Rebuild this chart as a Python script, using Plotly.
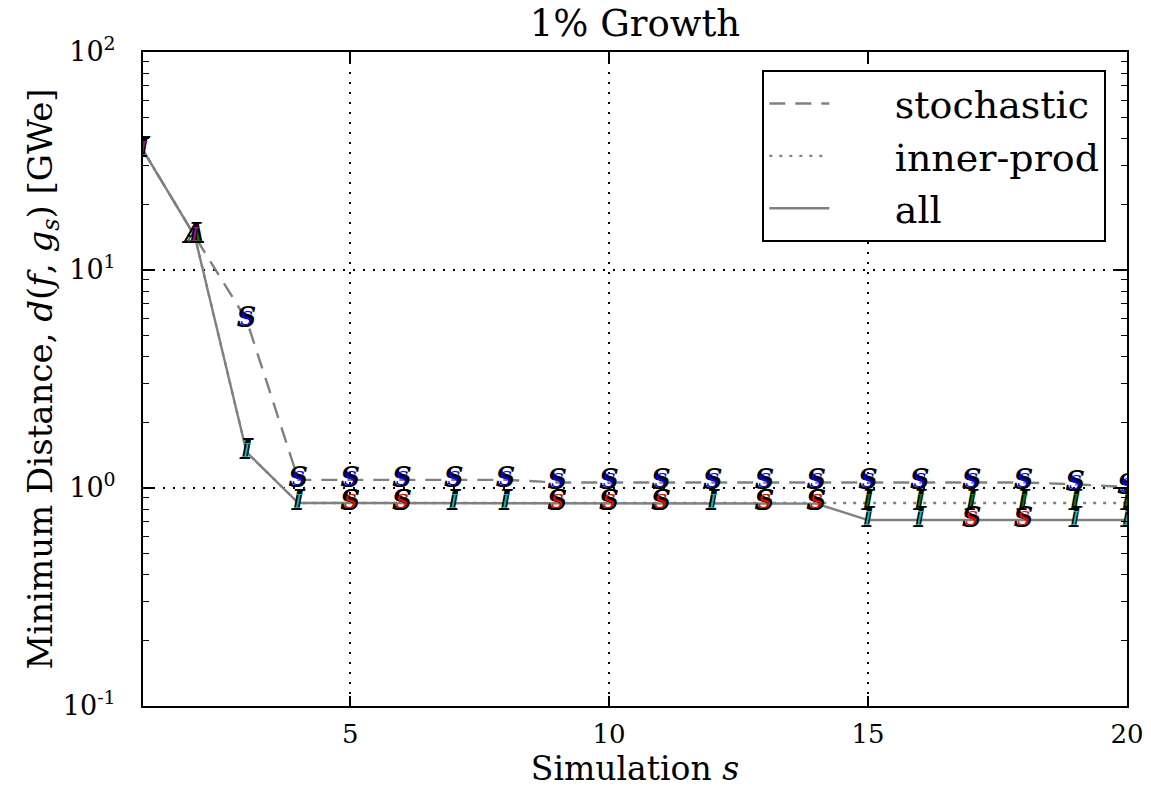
import plotly.graph_objects as go

sims = list(range(1, 21))

stochastic = [35.5, 14.3, 5.9, 1.09, 1.09, 1.09, 1.09, 1.09, 1.06, 1.06,
              1.06, 1.06, 1.06, 1.06, 1.06, 1.06, 1.06, 1.06, 1.04, 1.01]
stochastic_marks = ["I", "A", "S", "S", "S", "S", "S", "S", "S", "S",
                    "S", "S", "S", "S", "S", "S", "S", "S", "S", "S"]

inner_prod = [35.5, 14.3, 1.46, 0.853, 0.853, 0.853, 0.853, 0.853, 0.853, 0.853,
              0.853, 0.853, 0.848, 0.848, 0.853, 0.853, 0.853, 0.853, 0.853, 0.853]
inner_prod_marks = ["I", "A", "I", "I", "S", "S", "I", "I", "S", "S",
                    "S", "I", "S", "S", "I", "I", "I", "I", "I", "I"]

all_methods = [35.5, 14.3, 1.46, 0.853, 0.853, 0.853, 0.853, 0.853, 0.853, 0.853,
               0.853, 0.853, 0.848, 0.848, 0.713, 0.713, 0.713, 0.713, 0.713, 0.713]
all_marks = ["I", "I", "I", "I", "S", "S", "I", "I", "S", "S",
             "S", "I", "S", "S", "I", "I", "S", "S", "I", "I"]

y_tickvals = [0.1, 1, 10, 100]
y_ticktext = ["10<sup>-1</sup>", "10<sup>0</sup>", "10<sup>1</sup>", "10<sup>2</sup>"]
y_minor_tickvals = [m * d for d in (0.1, 1, 10) for m in range(2, 10)]
x_tickvals = [5, 10, 15, 20]

mark_colors_all = {"I": "rgb(0,191,191)", "S": "rgb(255,0,0)"}
MAGENTA = "rgb(191,0,191)"

fig = go.Figure()

GRAY = "rgb(128,128,128)"
NB = "\u00a0" * 5
fig.add_trace(go.Scatter(x=sims, y=stochastic, mode="lines", name=NB + "stochastic",
                         line=dict(color=GRAY, width=2.4, dash="16px,10px")))
fig.add_trace(go.Scatter(x=sims, y=inner_prod, mode="lines", name=NB + "inner-prod",
                         line=dict(color=GRAY, width=2.4, dash="3px,7px")))
fig.add_trace(go.Scatter(x=sims, y=all_methods, mode="lines", name=NB + "all",
                         line=dict(color=GRAY, width=2.4)))

MFONT = "DejaVu Serif"
MSIZE = 27


def add_marks(yvals, marks, colors):
    fig.add_trace(go.Scatter(x=sims, y=yvals, mode="text", text=marks, showlegend=False,
                             hoverinfo="skip", cliponaxis=True,
                             textfont=dict(family=MFONT, size=MSIZE, color="black",
                                           style="italic", weight="bold")))
    fig.add_trace(go.Scatter(x=sims, y=yvals, mode="text", text=marks, showlegend=False,
                             hoverinfo="skip", cliponaxis=True,
                             textfont=dict(family=MFONT, size=MSIZE - 8, color=colors,
                                           style="italic", weight="normal")))


add_marks(stochastic, stochastic_marks,
          [MAGENTA if m != "S" else "rgb(0,0,255)" for m in stochastic_marks])
add_marks(inner_prod, inner_prod_marks, ["rgb(0,128,0)" for m in inner_prod_marks])
add_marks(all_methods, all_marks,
          [MAGENTA if i < 2 else mark_colors_all[m] for i, m in enumerate(all_marks)])

FONT = "DejaVu Serif"
# page body has an 8px margin: figure occupies 1143x785 of the 1151x793 window
fig.update_layout(
    width=1143, height=785,
    margin=dict(l=135, r=24, t=44, b=87, autoexpand=False),
    paper_bgcolor="white", plot_bgcolor="white",
    font=dict(family=FONT, size=26, color="black"),
    title=dict(text="1% Growth", x=0.5, xref="paper", xanchor="center",
               y=0.981, yanchor="middle", font=dict(family=FONT, size=37)),
    showlegend=True,
    legend=dict(x=0.979, y=0.972, xanchor="right", yanchor="top",
                bordercolor="black", borderwidth=2, bgcolor="white",
                font=dict(family=FONT, size=38), tracegroupgap=0,
                itemwidth=60),
)

fig.update_xaxes(
    range=[1, 20], tickvals=x_tickvals, automargin=False,
    showline=True, linecolor="black", linewidth=2, mirror="ticks",
    ticks="inside", ticklen=10, tickwidth=1.5, tickcolor="black",
    showgrid=True, gridcolor="black", gridwidth=1.6, griddash="2px,8px",
    zeroline=False, tickfont=dict(size=26), ticklabelstandoff=4,
    title=dict(text="Simulation <i>s</i>", font=dict(size=33), standoff=2),
)
fig.update_yaxes(
    type="log", range=[-1, 2], tickvals=y_tickvals, ticktext=y_ticktext, automargin=False,
    showline=True, linecolor="black", linewidth=2, mirror="ticks",
    ticks="inside", ticklen=12, tickwidth=1.5, tickcolor="black",
    minor=dict(tickvals=y_minor_tickvals, ticks="inside", ticklen=6, tickcolor="black",
               tickwidth=1.2, showgrid=False),
    showgrid=True, gridcolor="black", gridwidth=1.6, griddash="2px,8px",
    zeroline=False, tickfont=dict(size=27), ticklabelstandoff=20,
    title=dict(text="Minimum Distance, <i>d</i>(<i>f</i>, <i>g</i><sub><i>s</i></sub>) [GWe]",
               font=dict(size=34), standoff=0),
)

fig.write_html("out.html")
